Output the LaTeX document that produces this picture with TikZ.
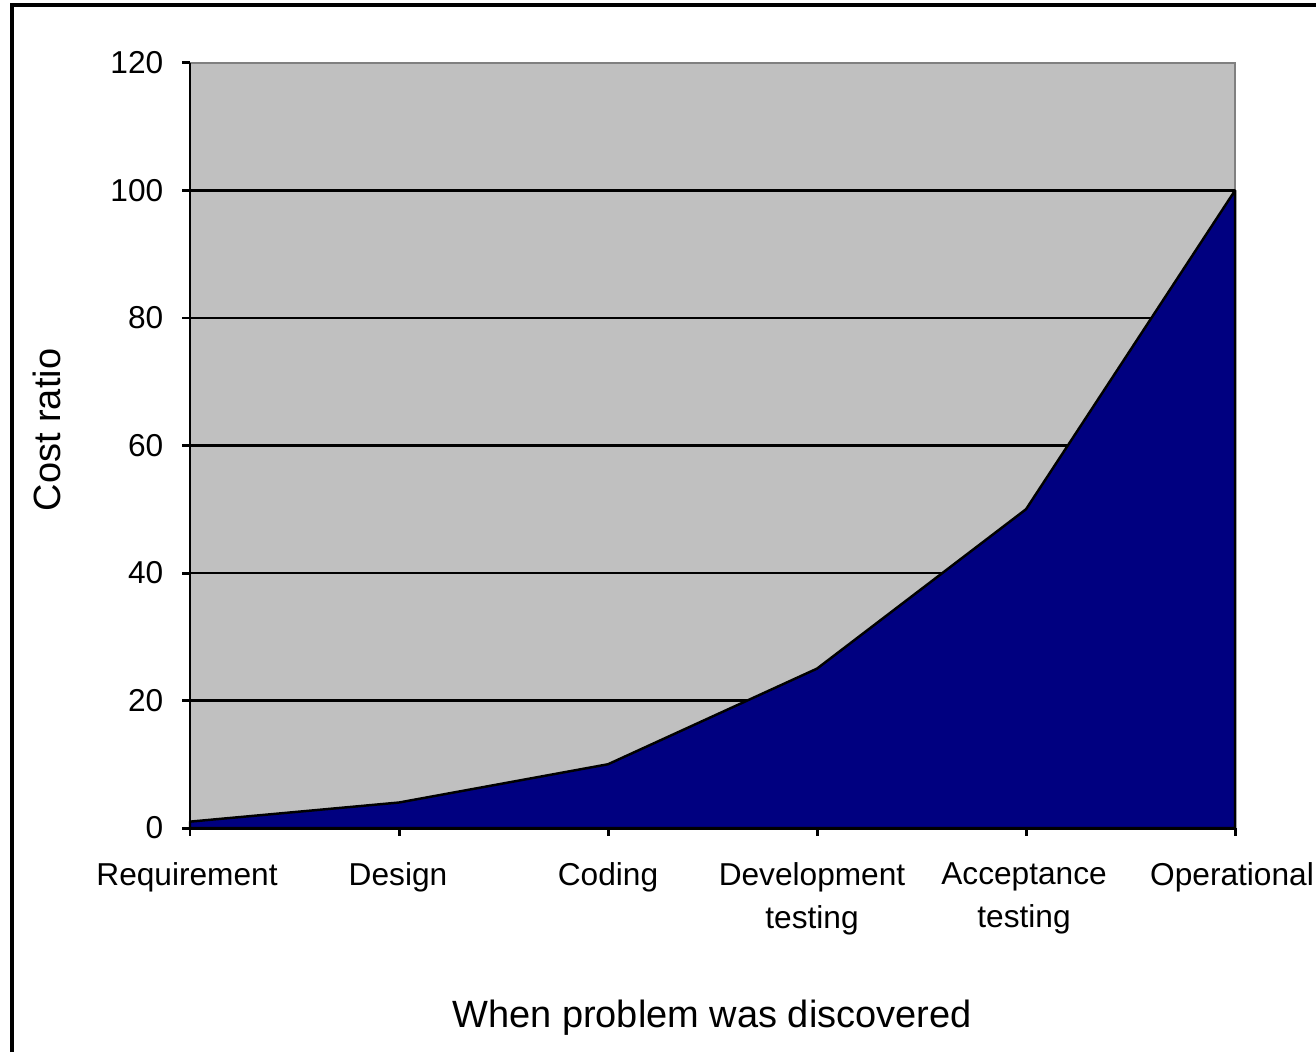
\documentclass[tikz,border=0pt]{standalone}
\usepackage{fontspec}
\setmainfont{Liberation Sans}
\usetikzlibrary{positioning,calc}
\definecolor{plotgray}{RGB}{192,192,192}
\definecolor{framegray}{RGB}{128,128,128}
\definecolor{costnavy}{RGB}{0,0,128}

\begin{document}
\begin{tikzpicture}[
    x=0.01cm, y=-0.01cm,
    ticklabel/.style={font=\fontsize{9}{12.2}\selectfont, inner sep=0pt},
    axistitle/.style={font=\fontsize{10.8}{13}\selectfont, inner sep=0pt},
    gridline/.style={black, line width=0.75pt},
    axisline/.style={black, line width=0.85pt}
]
    \useasboundingbox (0,0) rectangle (1316,1052);

    % Outer frame
    \draw[line width=0.9pt] (12,1052) -- (12,5) -- (1316,5);

    % Plot area
    \fill[plotgray] (190,63) rectangle (1235,828);
    \draw[framegray, line width=0.8pt] (190,63) -- (1235,63) -- (1235,828);

    % Grid lines
    \foreach \v in {20,40,...,100}
        \draw[gridline] (190,{828-6.375*\v}) -- (1235,{828-6.375*\v});

    % Cost curve
    \filldraw[fill=costnavy, draw=black, line width=0.7pt, line join=round]
        (190,828) -- (190,{828-6.375*1}) -- (399,{828-6.375*4})
        -- (608,{828-6.375*10}) -- (817,{828-6.375*25})
        -- (1026,{828-6.375*50}) -- (1235,{828-6.375*100})
        -- (1235,828) -- cycle;

    % Axes
    \draw[axisline] (190,63) -- (190,836);
    \draw[axisline] (182,828) -- (1235,828);
    \foreach \x in {399,608,817,1026,1235}
        \draw[axisline] (\x,828) -- (\x,836);

    % Y labels
    \foreach \v in {0,20,...,120} {
        \draw[axisline] (182,{828-6.375*\v}) -- (190,{828-6.375*\v});
        \node[ticklabel, anchor=east] (y\v) at (164,{828-6.375*\v}) {\v};
    }

    % Category labels
    \foreach \x/\n/\lab in {187/req/Requirement, 398/des/Design, 608/cod/Coding,
                            812/dev/{Development\\testing}, 1024/acc/{Acceptance\\testing},
                            1232/ops/Operational}
        \node[ticklabel, anchor=north, align=center] (\n) at (\x,862) {\lab};

    % Axis titles
    \node[axistitle, rotate=90] (ytitle) at (47,430) {Cost ratio};
    \node[axistitle, anchor=base] (xtitle) at (712,1027) {When problem was discovered};
\end{tikzpicture}
\end{document}
